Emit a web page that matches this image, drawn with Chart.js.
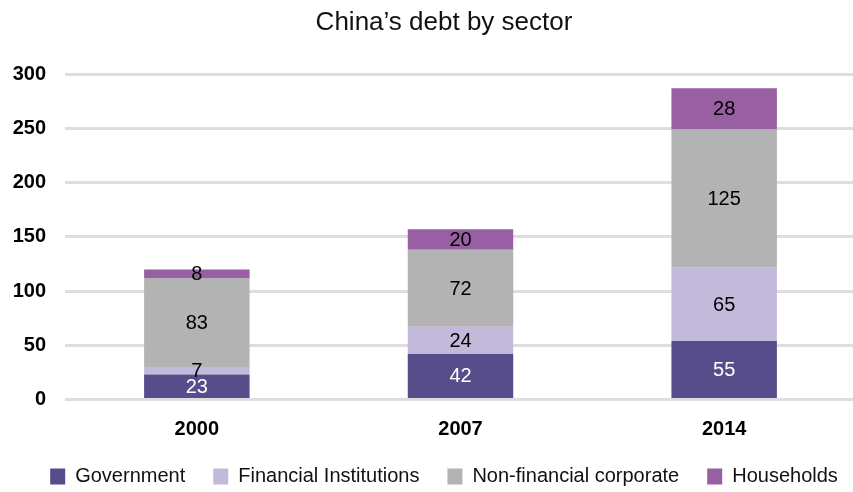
<!DOCTYPE html>
<html>
<head>
<meta charset="utf-8">
<script src="https://cdn.jsdelivr.net/npm/chart.js@4/dist/chart.umd.min.js"></script>
<style>
  html, body { margin: 0; padding: 0; background: #fff; overflow: hidden; }
  #wrap { width: 853px; height: 492px; overflow: hidden; }
</style>
</head>
<body>
<div id="wrap"><canvas id="myChart" width="856" height="492"></canvas></div>
<script>
// categories
const years = ["2000", "2007", "2014"];

// bar heights as drawn in the picture
const government = [23, 42, 54];
const financial = [7, 25, 68];
const nonFinancial = [82, 71, 127];
const households = [8, 19, 38];

// numbers printed on the segments
const governmentText = ["23", "42", "55"];
const financialText = ["7", "24", "65"];
const nonFinancialText = ["83", "72", "125"];
const householdsText = ["8", "20", "28"];

const yTicks = [0, 50, 100, 150, 200, 250, 300];

const FONT = "'Liberation Sans', Arial, Helvetica, sans-serif";

// write the value in the middle of each segment
const segmentLabels = {
  id: "segmentLabels",
  afterDatasetsDraw(chart) {
    const ctx = chart.ctx;
    ctx.save();
    ctx.font = "20px " + FONT;
    ctx.textAlign = "center";
    ctx.textBaseline = "middle";
    chart.data.datasets.forEach((ds, di) => {
      const meta = chart.getDatasetMeta(di);
      meta.data.forEach((bar, i) => {
        const mid = (bar.y + bar.base) / 2;
        ctx.fillStyle = ds.textColor;
        ctx.fillText(ds.texts[i], bar.x, mid + 1);
      });
    });
    ctx.restore();
  },
};

// title and legend sit a bit right of the canvas centre in the original
const shiftBoxes = {
  id: "shiftBoxes",
  afterLayout(chart) {
    [chart.titleBlock, chart.legend].forEach((b) => {
      b.left += 11;
      b.right += 11;
    });
  },
};

const ctx = document.getElementById("myChart").getContext("2d");
const myChart = new Chart(ctx, {
  type: "bar",
  data: {
    labels: years,
    datasets: [
      {
        label: "Government",
        data: government,
        texts: governmentText,
        textColor: "#ffffff",
        backgroundColor: "#574d8a",
      },
      {
        label: "Financial Institutions",
        data: financial,
        texts: financialText,
        textColor: "#000000",
        backgroundColor: "#c3b9da",
      },
      {
        label: "Non-financial corporate",
        data: nonFinancial,
        texts: nonFinancialText,
        textColor: "#000000",
        backgroundColor: "#b3b3b3",
      },
      {
        label: "Households",
        data: households,
        texts: householdsText,
        textColor: "#000000",
        backgroundColor: "#985fa3",
      },
    ],
  },
  options: {
    responsive: false,
    animation: false,
    layout: { padding: { left: 10, right: 0, top: 0, bottom: -4.5 } },
    datasets: {
      bar: { barPercentage: 0.4, categoryPercentage: 1, borderWidth: 0 },
    },
    scales: {
      x: {
        stacked: true,
        grid: { display: false, drawTicks: false },
        border: { display: false },
        ticks: {
          color: "#000",
          padding: 18,
          font: { family: FONT, size: 20, weight: "bold" },
        },
        afterFit(scale) {
          scale.height = 39;
        },
      },
      y: {
        stacked: true,
        min: 0,
        max: 300,
        afterBuildTicks(axis) {
          axis.ticks = yTicks.map((v) => ({ value: v }));
        },
        grid: { color: "#dedede", lineWidth: 3, drawTicks: false },
        border: { display: false },
        ticks: {
          color: "#000",
          padding: 19,
          font: { family: FONT, size: 20, weight: "bold" },
        },
        afterFit(scale) {
          scale.width = 55;
        },
      },
    },
    plugins: {
      title: {
        display: true,
        text: "China\u2019s debt by sector",
        color: "#111",
        font: { family: FONT, size: 26, weight: "normal" },
        padding: { top: 7, bottom: 36 },
      },
      legend: {
        position: "bottom",
        labels: {
          color: "#111",
          boxWidth: 15,
          boxHeight: 16,
          padding: 28,
          font: { family: FONT, size: 20 },
        },
      },
      tooltip: { enabled: false },
    },
  },
  plugins: [segmentLabels, shiftBoxes],
});
</script>
</body>
</html>
